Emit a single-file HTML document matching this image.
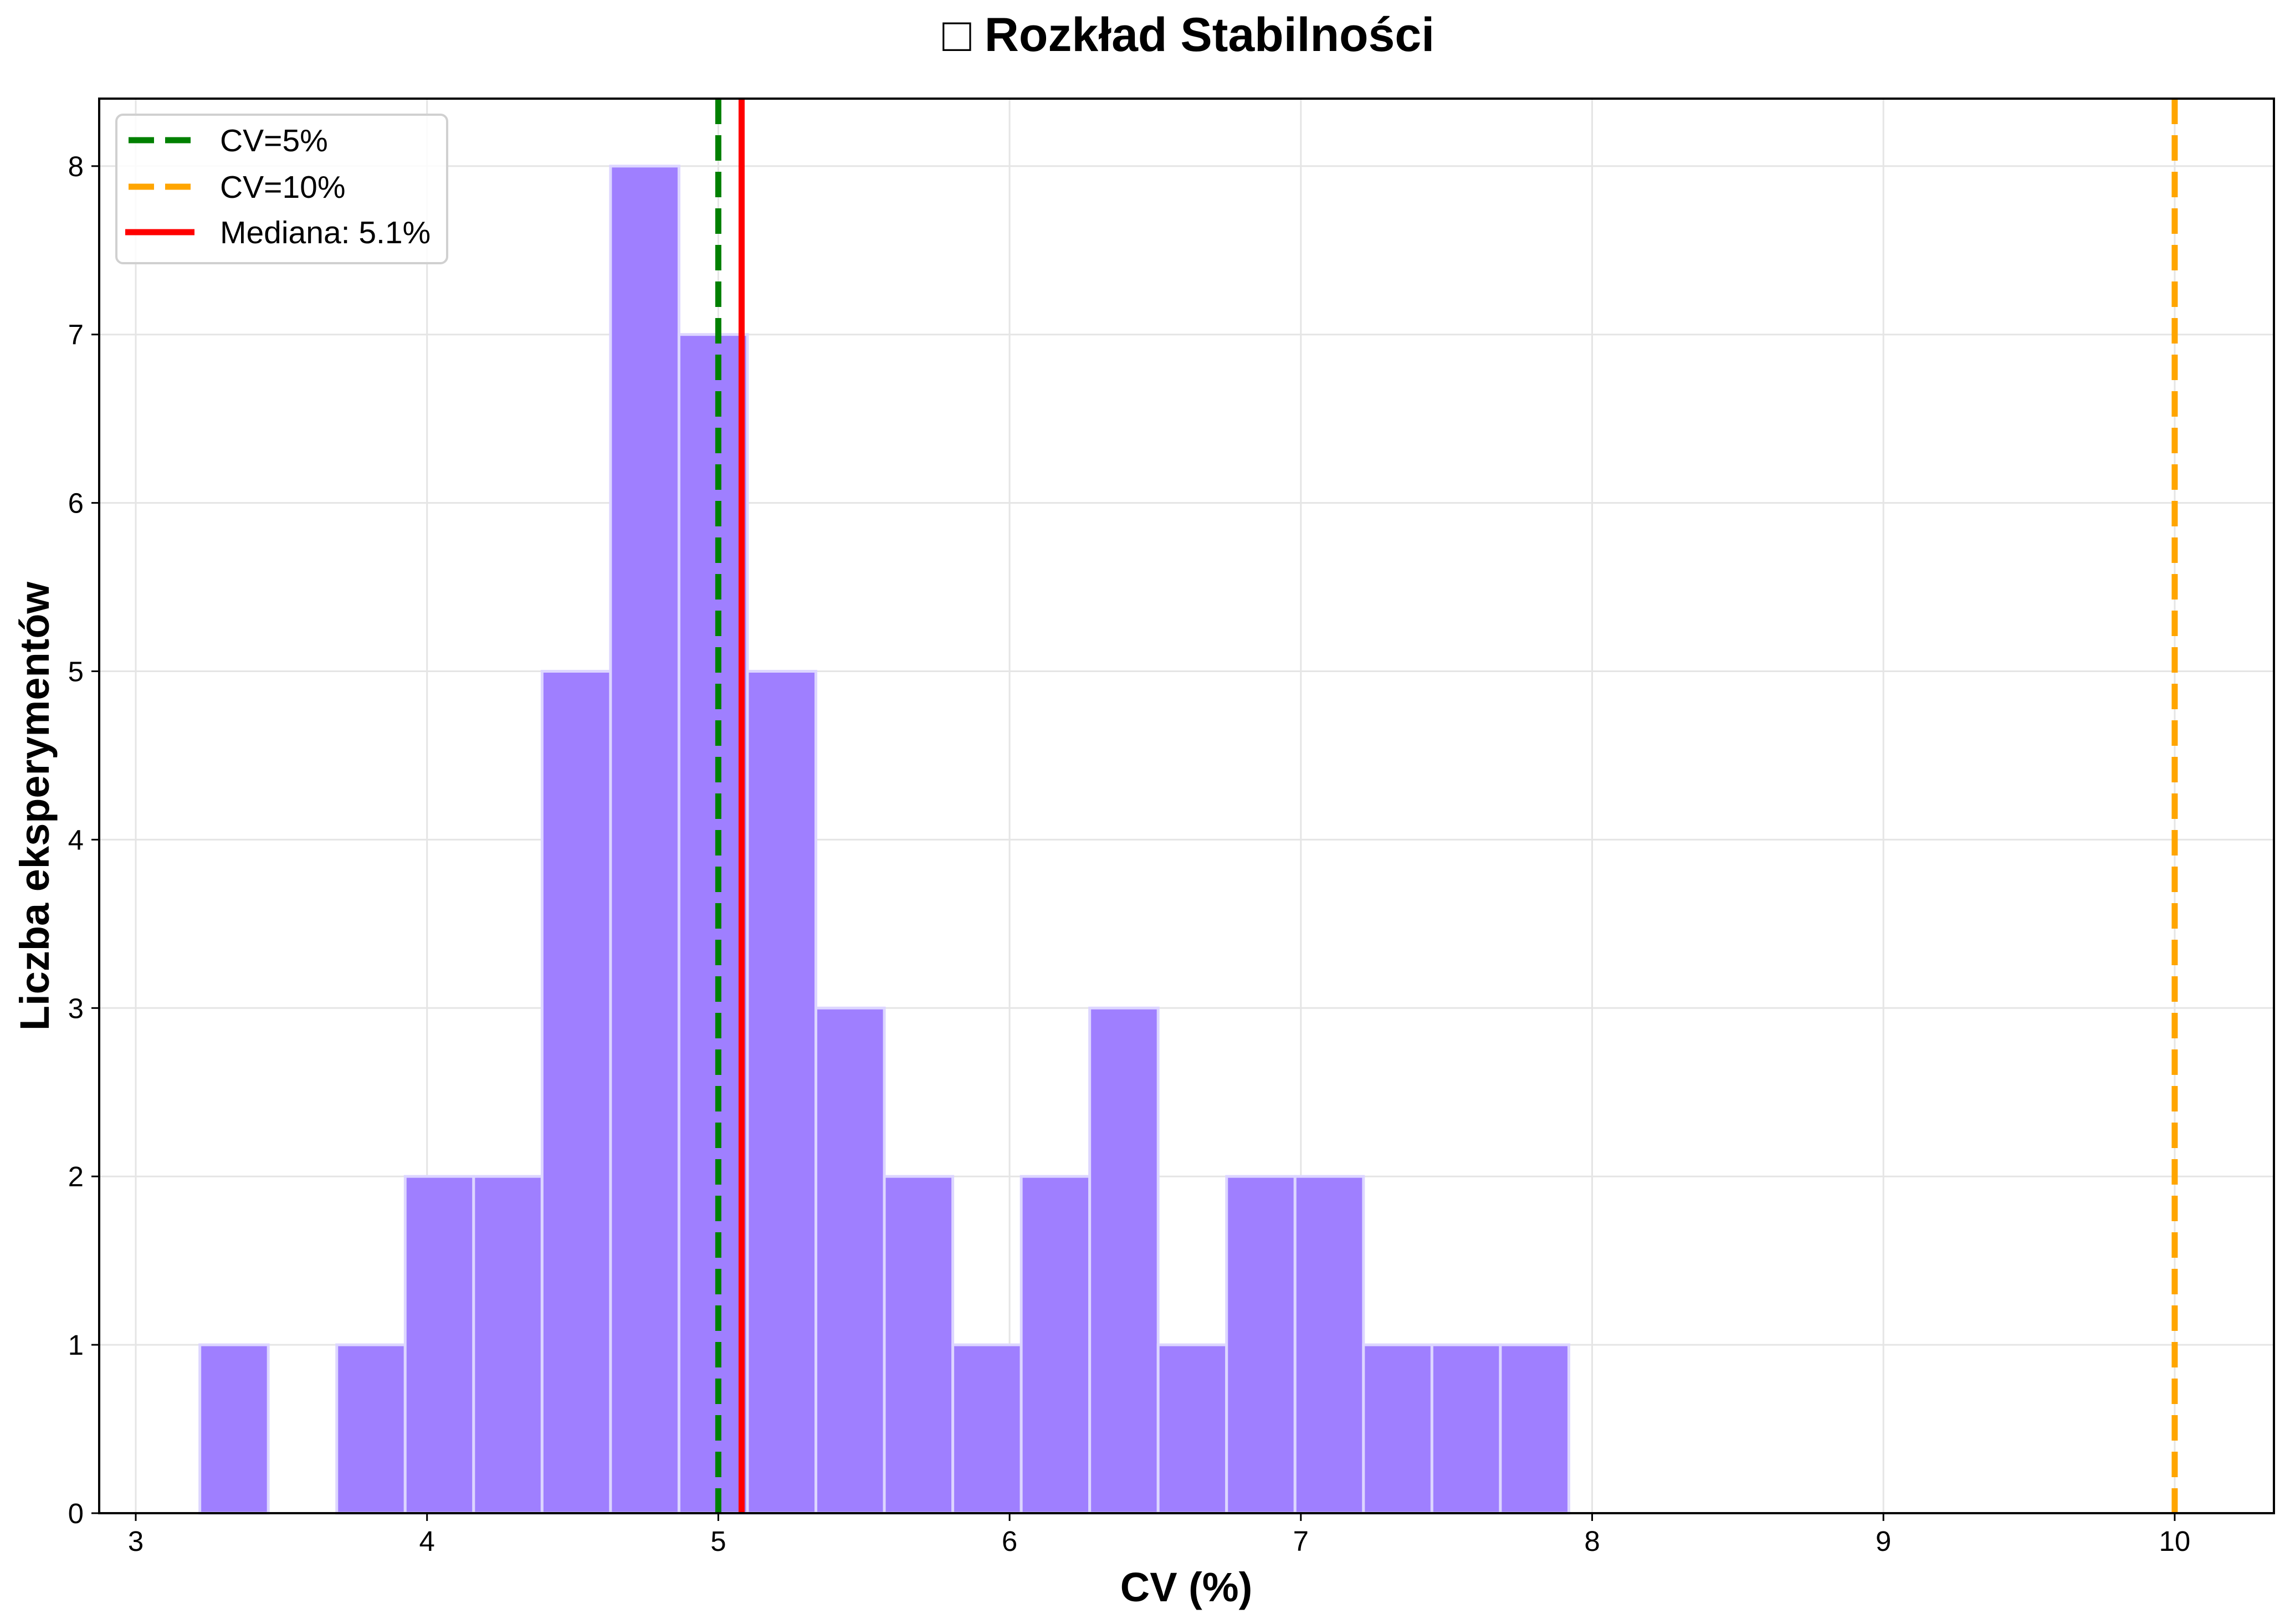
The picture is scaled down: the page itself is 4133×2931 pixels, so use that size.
<!DOCTYPE html>
<html><head><meta charset="utf-8"><style>
html,body{margin:0;padding:0;background:#fff}
svg{display:block;font-family:"Liberation Sans","DejaVu Sans",sans-serif}
</style></head><body>
<svg id="chart" width="4133" height="2931" viewBox="0 0 4133 2931" xmlns="http://www.w3.org/2000/svg">
<rect width="4133" height="2931" fill="#fff"/>
<text x="2145" y="92" font-size="86" font-weight="bold" text-anchor="middle">□ Rozkład Stabilności</text>
<g id="grid"></g>
<g id="bars"></g>
<g id="refs"></g>
<rect x="179" y="178" width="3925" height="2553" fill="none" stroke="#000" stroke-width="4"/>
<g id="ticks"></g>
<text x="2141" y="2890" font-size="74" font-weight="bold" text-anchor="middle">CV (%)</text>
<text transform="translate(88,1455) rotate(-90)" font-size="74" font-weight="bold" text-anchor="middle">Liczba eksperymentów</text>
<g>
<rect x="210" y="207" width="597" height="268" rx="12" fill="#fff" fill-opacity="0.85" stroke="#d0d0d0" stroke-width="4"/>
<line x1="232" y1="253" x2="345" y2="253" stroke="green" stroke-width="11" stroke-dasharray="46,20"/>
<text x="397" y="273" font-size="57">CV=5%</text>
<line x1="232" y1="337" x2="345" y2="337" stroke="orange" stroke-width="11" stroke-dasharray="46,20"/>
<text x="397" y="357" font-size="57">CV=10%</text>
<line x1="226" y1="419" x2="351" y2="419" stroke="red" stroke-width="11"/>
<text x="397" y="439" font-size="57">Mediana: 5.1%</text>
</g>
</svg>
<script>
const binStart = 3.22;
const binWidth = 0.235;
const counts = [1,0,1,2,2,5,8,7,5,3,2,1,2,3,1,2,2,1,1,1];
const xTicks = [3,4,5,6,7,8,9,10];
const yTicks = [0,1,2,3,4,5,6,7,8];
const refCv5 = 5;
const refCv10 = 10;
const median = 5.08;

const NS = 'http://www.w3.org/2000/svg';
const X0 = 179, X1 = 4104, Y0 = 178, Y1 = 2731;
const xs = v => 245 + (v - 3) * 525.7;
const ys = v => 2731 - v * 303.9;
function mk(tag, attrs, parent){const e=document.createElementNS(NS,tag);for(const k in attrs)e.setAttribute(k,attrs[k]);parent.appendChild(e);return e;}
const grid=document.getElementById('grid'),bars=document.getElementById('bars'),refs=document.getElementById('refs'),ticks=document.getElementById('ticks');
xTicks.forEach(t=>{
  const g=mk('line',{x1:xs(t),x2:xs(t),y1:Y0,y2:Y1,stroke:'#e5e5e5','stroke-width':3},grid);
  
  
  const tk=mk('line',{x1:xs(t),x2:xs(t),y1:Y1,y2:Y1+14,stroke:'#000','stroke-width':3},ticks);
  
  
  const tx=mk('text',{x:xs(t),y:Y1+68,'font-size':51,'text-anchor':'middle'},ticks);
  tx.textContent=t;
  
  
});
yTicks.forEach(t=>{
  const g=mk('line',{x1:X0,x2:X1,y1:ys(t),y2:ys(t),stroke:'#e5e5e5','stroke-width':3},grid);
  
  
  const tk=mk('line',{x1:X0-14,x2:X0,y1:ys(t),y2:ys(t),stroke:'#000','stroke-width':3},ticks);
  
  
  const tx=mk('text',{x:X0-28,y:ys(t)+18,'font-size':51,'text-anchor':'end'},ticks);
  tx.textContent=t;
  
  
});
counts.forEach((c,i)=>{
  if(!c)return;
  const a=xs(binStart+i*binWidth),b=xs(binStart+(i+1)*binWidth);
  const r=mk('rect',{x:a,y:ys(c),width:b-a,height:ys(0)-ys(c),fill:'#9f7fff',stroke:'#ddd6ff','stroke-width':5},bars);
  
  
});
const l1=mk('line',{x1:xs(refCv5),x2:xs(refCv5),y1:Y0,y2:Y1,stroke:'green','stroke-width':11,'stroke-dasharray':'46,20'},refs);


const l2=mk('line',{x1:xs(refCv10),x2:xs(refCv10),y1:Y0,y2:Y1,stroke:'orange','stroke-width':11,'stroke-dasharray':'46,20'},refs);


const l3=mk('line',{x1:xs(median),x2:xs(median),y1:Y0,y2:Y1,stroke:'red','stroke-width':11},refs);


</script>
</body></html>
